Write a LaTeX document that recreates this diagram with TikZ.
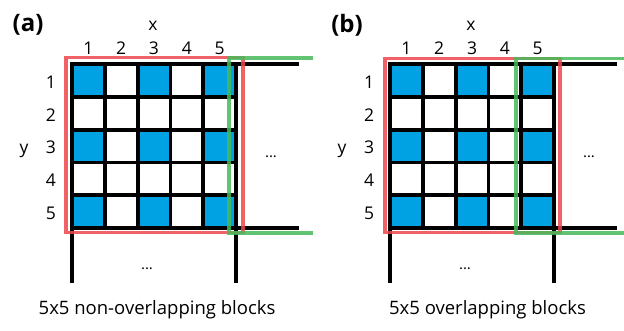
\documentclass[tikz,border=0pt]{standalone}
\usepackage{fontspec}
\setmainfont{Open Sans}
\definecolor{cellblue}{RGB}{0,162,228}
\definecolor{boxred}{RGB}{238,70,75}
\definecolor{boxgreen}{RGB}{70,185,90}
\tikzset{
  gridline/.style={line width=3.8pt, black},
  redbox/.style={line width=3.6pt, boxred, draw opacity=0.85},
  greenbox/.style={line width=3.6pt, boxgreen, draw opacity=0.85},
  numlab/.style={font=\fontsize{17.5}{20}\selectfont, inner sep=0pt, anchor=base},
  dotlab/.style={font=\fontsize{15}{18}\selectfont, inner sep=0pt, anchor=base},
  panlab/.style={font=\fontsize{24}{28}\selectfont\bfseries, inner sep=0pt},
  caplab/.style={font=\fontsize{18.5}{22}\selectfont, inner sep=0pt, anchor=base},
  bluecell/.style={fill=cellblue}
}
\newcommand\mypanel[1]{%
  \foreach \i in {0,2,4}{\foreach \j in {0,2,4}{%
    \fill[bluecell] (72+\i*32.8,64+\j*32.8) rectangle ++(32.8,32.8);}}
  \foreach \k in {1,...,4}{%
    \draw[gridline] (72+\k*32.8,64) -- (72+\k*32.8,228);
    \draw[gridline] (72,64+\k*32.8) -- (236,64+\k*32.8);}
  \draw[gridline] (72,283) -- (72,64) -- (299,64);
  \draw[gridline] (236,283) -- (236,64);
  \draw[gridline] (72,228) -- (299,228);
  \foreach \k in {1,...,5}{%
    \node[numlab] (#1col\k) at (72+\k*32.8-16.4,54.5) {\k};
    \node[numlab] (#1row\k) at (51,64+\k*32.8-16.4+7.8) {\k};}
  \node[numlab] (#1xlab) at (153,30) {x};
  \node[numlab] (#1ylab) at (24,153.5) {y};
  \node[dotlab] (#1dotsr) at (271,157) {...};
  \node[dotlab] (#1dotsb) at (147,269) {...};
}
\begin{document}
\begin{tikzpicture}[x=1pt,y=-1pt]
\useasboundingbox (0,0) rectangle (624,330);
% panel (a)
\mypanel{a}
\node[panlab] (alabel) at (28,24.5) {(a)};
\node[caplab] (acap) at (157,314) {5x5 non-overlapping blocks};
\draw[redbox] (66,57.5) rectangle (243,232.5);
\draw[greenbox] (313,57.8) -- (229,57.8) -- (229,233.2) -- (313,233.2);
% panel (b)
\begin{scope}[xshift=318pt]
\mypanel{b}
\end{scope}
\node[panlab] (blabel) at (347,25) {(b)};
\node[caplab] (bcap) at (487.5,314) {5x5 overlapping blocks};
\draw[redbox] (385,58.5) rectangle (560,232.5);
\draw[greenbox] (624,58.5) -- (516,58.5) -- (516,233.2) -- (624,233.2);
\end{tikzpicture}
\end{document}
